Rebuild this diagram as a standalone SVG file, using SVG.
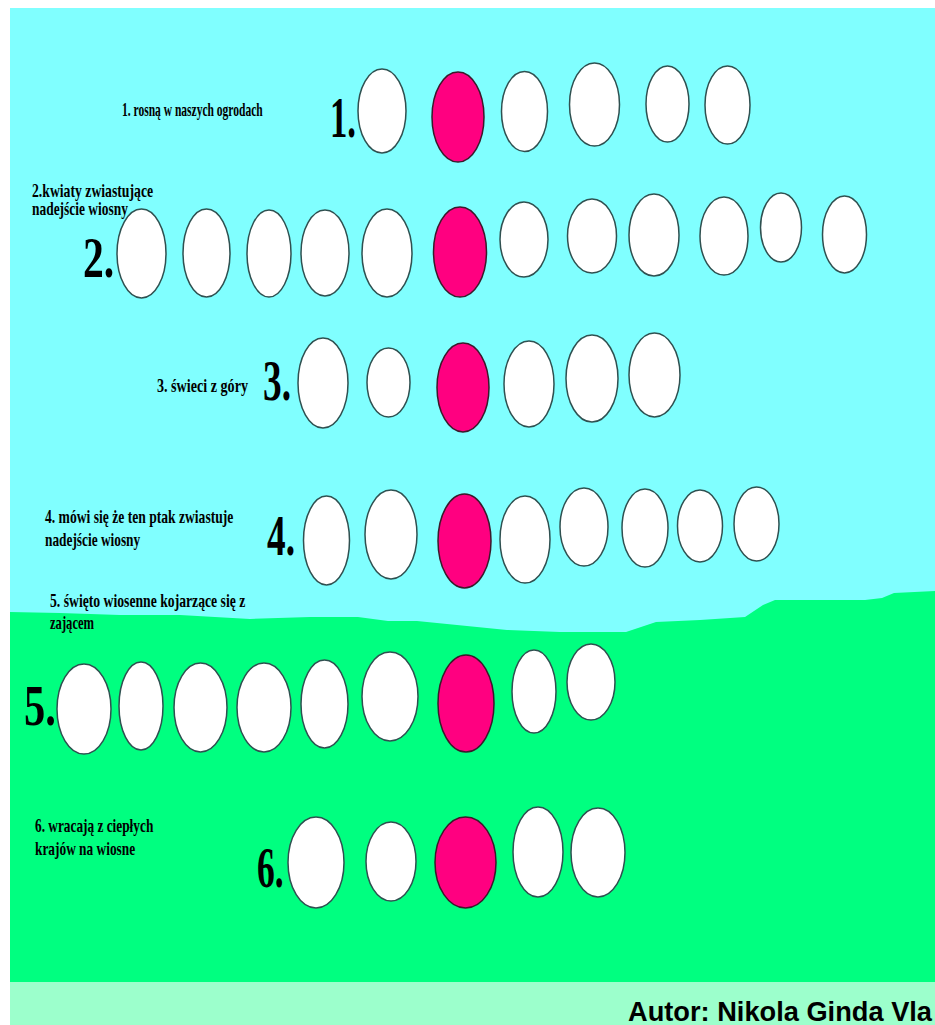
<svg xmlns="http://www.w3.org/2000/svg" width="935" height="1025" viewBox="0 0 935 1025">
<style>
.w{fill:#ffffff;stroke:#2f5050;stroke-width:1.5}
.p{fill:#ff0080;stroke:#3a1a2a;stroke-width:1.5}
.lbl{font-family:"Liberation Serif","Times New Roman",serif;font-weight:bold;font-size:18px;fill:#000}
.num{font-family:"Liberation Serif","Times New Roman",serif;font-weight:bold;font-size:58px;fill:#000}
.aut{font-family:"Liberation Sans",Arial,sans-serif;font-weight:bold;font-size:27px;fill:#000}
</style>
<rect x="0" y="0" width="935" height="1025" fill="#ffffff"/>
<g id="background">
<rect x="10" y="8" width="925" height="975" fill="#80ffff"/>
<path d="M10,612 L60,613 L120,615 L180,615 L250,619 L310,617 L358,617 L388,621 L417,621 L477,627 L507,630 L560,632 L626,632 L656,622 L700,620 L745,617 L763,605 L775,600 L865,600 L882,598 L894,593 L935,591 L935,983 L10,983 Z" fill="#00ff80"/>
<rect x="10" y="982" width="925" height="43" fill="#9cffcc"/>
</g>
<g id="row1">
<text class="lbl" transform="translate(122,116) scale(0.7,1)" textLength="201" lengthAdjust="spacingAndGlyphs">1. rosną w naszych ogrodach</text>
<text class="num" transform="translate(330,137) scale(0.65,1)" textLength="40" lengthAdjust="spacingAndGlyphs">1.</text>
<ellipse class="w" cx="382" cy="111" rx="24" ry="42"/>
<ellipse class="p" cx="458" cy="117" rx="26" ry="45"/>
<ellipse class="w" cx="524.5" cy="111.5" rx="23" ry="40"/>
<ellipse class="w" cx="594.5" cy="104.5" rx="25" ry="41.5"/>
<ellipse class="w" cx="667.5" cy="104" rx="21.5" ry="38"/>
<ellipse class="w" cx="727.5" cy="105" rx="22.5" ry="39"/>
</g>
<g id="row2">
<text class="lbl" transform="translate(32,197) scale(0.7,1)" textLength="173" lengthAdjust="spacingAndGlyphs">2.kwiaty zwiastujące</text>
<text class="lbl" transform="translate(32,215) scale(0.7,1)" textLength="137" lengthAdjust="spacingAndGlyphs">nadejście wiosny</text>
<text class="num" transform="translate(83,277) scale(0.65,1)" textLength="48" lengthAdjust="spacingAndGlyphs">2.</text>
<ellipse class="w" cx="141.5" cy="253.5" rx="24.5" ry="44.5"/>
<ellipse class="w" cx="206.5" cy="253" rx="23.5" ry="44"/>
<ellipse class="w" cx="269" cy="253.5" rx="22" ry="43.5"/>
<ellipse class="w" cx="325" cy="253" rx="24" ry="43"/>
<ellipse class="w" cx="387" cy="253" rx="25" ry="44"/>
<ellipse class="p" cx="460" cy="252" rx="26.5" ry="45"/>
<ellipse class="w" cx="524" cy="239.5" rx="24" ry="37.5"/>
<ellipse class="w" cx="592" cy="236" rx="24.5" ry="37"/>
<ellipse class="w" cx="654" cy="235" rx="25" ry="41"/>
<ellipse class="w" cx="724" cy="236" rx="24" ry="39"/>
<ellipse class="w" cx="781" cy="227.5" rx="20.5" ry="34.5"/>
<ellipse class="w" cx="844.5" cy="234.5" rx="22" ry="38.5"/>
</g>
<g id="row3">
<text class="lbl" transform="translate(157,392) scale(0.7,1)" textLength="130" lengthAdjust="spacingAndGlyphs">3. świeci z góry</text>
<text class="num" transform="translate(263,400) scale(0.65,1)" textLength="43" lengthAdjust="spacingAndGlyphs">3.</text>
<ellipse class="w" cx="323" cy="383" rx="25" ry="45"/>
<ellipse class="w" cx="388.5" cy="382.5" rx="21.5" ry="34.5"/>
<ellipse class="p" cx="463" cy="387.5" rx="26" ry="44.5"/>
<ellipse class="w" cx="529" cy="384" rx="25" ry="43"/>
<ellipse class="w" cx="592" cy="378.5" rx="26" ry="43.5"/>
<ellipse class="w" cx="654.5" cy="375" rx="25.5" ry="42"/>
</g>
<g id="row4">
<text class="lbl" transform="translate(45,523) scale(0.7,1)" textLength="269" lengthAdjust="spacingAndGlyphs">4. mówi się że ten ptak zwiastuje</text>
<text class="lbl" transform="translate(45,546) scale(0.7,1)" textLength="136" lengthAdjust="spacingAndGlyphs">nadejście wiosny</text>
<text class="num" transform="translate(267,555) scale(0.65,1)" textLength="43" lengthAdjust="spacingAndGlyphs">4.</text>
<ellipse class="w" cx="326.5" cy="540.5" rx="23" ry="44.5"/>
<ellipse class="w" cx="391" cy="534.5" rx="26" ry="44.5"/>
<ellipse class="p" cx="464.5" cy="541" rx="26.5" ry="47"/>
<ellipse class="w" cx="525" cy="539.5" rx="25" ry="43.5"/>
<ellipse class="w" cx="584" cy="527" rx="24" ry="39"/>
<ellipse class="w" cx="645" cy="528" rx="23" ry="39"/>
<ellipse class="w" cx="700" cy="526" rx="22.5" ry="36"/>
<ellipse class="w" cx="756.5" cy="524" rx="22.5" ry="37"/>
</g>
<g id="row5">
<text class="lbl" transform="translate(50,607) scale(0.7,1)" textLength="279" lengthAdjust="spacingAndGlyphs">5. święto wiosenne kojarzące się z</text>
<text class="lbl" transform="translate(50,629) scale(0.7,1)" textLength="63" lengthAdjust="spacingAndGlyphs">zającem</text>
<text class="num" transform="translate(24,725) scale(0.65,1)" textLength="49" lengthAdjust="spacingAndGlyphs">5.</text>
<ellipse class="w" cx="84" cy="709" rx="27" ry="45"/>
<ellipse class="w" cx="141" cy="706" rx="22" ry="44"/>
<ellipse class="w" cx="200.5" cy="707.5" rx="26.5" ry="44.5"/>
<ellipse class="w" cx="264" cy="707.5" rx="27" ry="44.5"/>
<ellipse class="w" cx="324.5" cy="704" rx="23.5" ry="44"/>
<ellipse class="w" cx="390" cy="696.5" rx="28" ry="44.5"/>
<ellipse class="p" cx="466" cy="703.5" rx="28" ry="48.5"/>
<ellipse class="w" cx="534" cy="691.5" rx="22" ry="41.5"/>
<ellipse class="w" cx="591" cy="682" rx="24" ry="38"/>
</g>
<g id="row6">
<text class="lbl" transform="translate(35,832) scale(0.7,1)" textLength="169" lengthAdjust="spacingAndGlyphs">6. wracają z ciepłych</text>
<text class="lbl" transform="translate(35,855) scale(0.7,1)" textLength="143" lengthAdjust="spacingAndGlyphs">krajów na wiosne</text>
<text class="num" transform="translate(257,887) scale(0.65,1)" textLength="41" lengthAdjust="spacingAndGlyphs">6.</text>
<ellipse class="w" cx="316" cy="862.5" rx="28" ry="45.5"/>
<ellipse class="w" cx="391" cy="861.5" rx="25" ry="39.5"/>
<ellipse class="p" cx="465.5" cy="862.5" rx="30.5" ry="45.5"/>
<ellipse class="w" cx="538" cy="852" rx="25" ry="45"/>
<ellipse class="w" cx="598" cy="852.5" rx="27" ry="44.5"/>
</g>
<g id="author">
<text class="aut" x="628" y="1021" textLength="304" lengthAdjust="spacingAndGlyphs">Autor: Nikola Ginda Vla</text>
</g>
</svg>
